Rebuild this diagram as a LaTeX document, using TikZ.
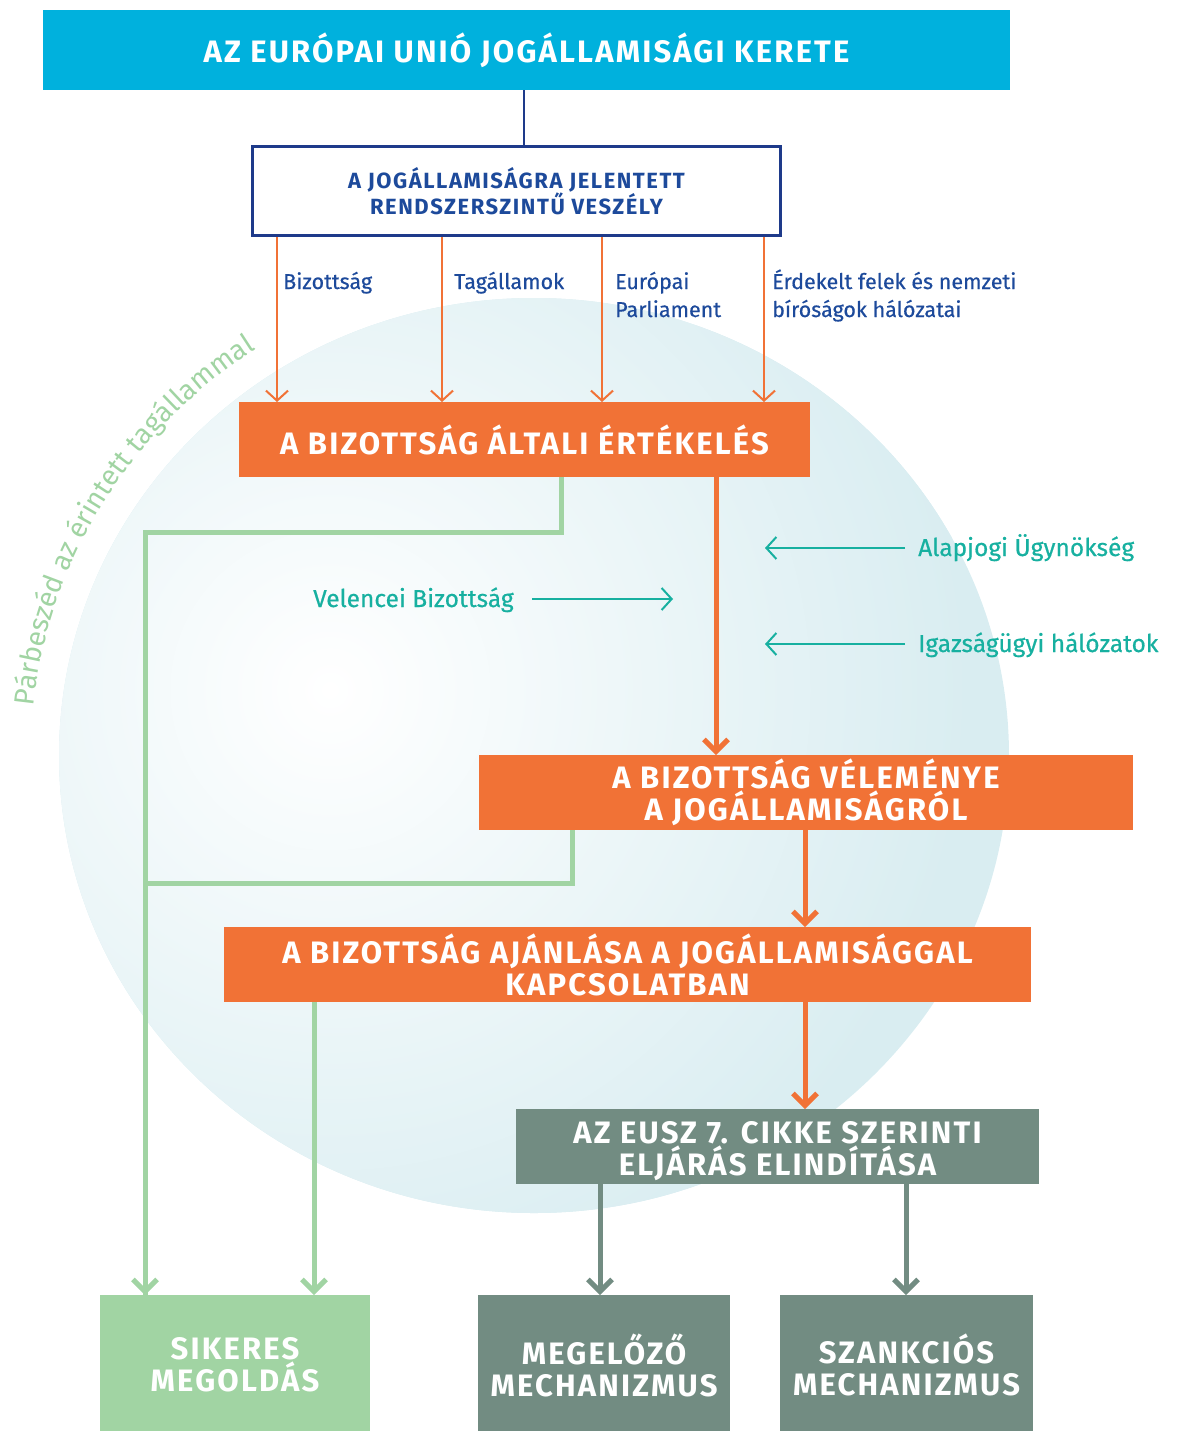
\documentclass[tikz,border=0pt]{standalone}
\usepackage{fontspec}
\setmainfont{Fira Sans}
\newfontfamily\headfont{Fira Sans}[LetterSpace=7]
\newfontfamily\medfont{Fira Sans}[FakeBold=0.5]
\usetikzlibrary{arrows.meta,decorations.text}
\definecolor{ecyan}{HTML}{00B1DD}
\definecolor{enavy}{HTML}{1E3A8A}
\definecolor{lblue}{HTML}{1D4A9B}
\definecolor{eorange}{HTML}{F17236}
\definecolor{eteal}{HTML}{17B0A0}
\definecolor{egreen}{HTML}{A1D4A3}
\definecolor{egray}{HTML}{728C82}
\definecolor{discblue}{HTML}{D9EDF1}
\begin{document}
\begin{tikzpicture}[x=1pt,y=1pt,
  hbox/.style={inner sep=0pt, outer sep=0pt, align=center, text=white, font=\headfont\bfseries\fontsize{31}{32}\selectfont},
  obox/.style={hbox, fill=eorange},
  gbox/.style={hbox, fill=egray},
  lbox/.style={hbox, fill=egreen},
  lab/.style={inner sep=0pt, anchor=base west, text=lblue, font=\medfont\fontsize{21.5}{28}\selectfont, align=left},
  tlab/.style={inner sep=0pt, anchor=base west, text=eteal, font=\medfont\fontsize{24.5}{28}\selectfont},
  oarrow/.style={draw=eorange, line width=2pt, -{Straight Barb[length=10pt,width=22pt]}},
  tarrow/.style={draw=eteal, line width=2pt, -{Straight Barb[length=10pt,width=22pt]}},
  bigarrow/.style={line width=5pt, -{Straight Barb[length=12pt,width=24pt]}},
  gline/.style={draw=egreen, line width=5pt, line join=miter},
]
\useasboundingbox (0,0) rectangle (1182,-1432);
% disc
\fill[discblue] (534,-755.5) ellipse [x radius=475, y radius=457.5];
\begin{scope}
  \clip (534,-755.5) ellipse [x radius=475, y radius=457.5];
  \shade[inner color=white, outer color=discblue] (330,-690) circle (640);
\end{scope}
% curved text
\path[decorate, decoration={text along path, text align=center,
  text format delimiters={|}{|},
  text={|\color{egreen}\fontsize{28}{28}\selectfont|Párbeszéd az érintett tagállammal}}]
  (534,-755) ++(178:503 and 487) arc[start angle=178, end angle=120, x radius=503, y radius=487];

% boxes
\node[hbox, fill=ecyan, minimum width=967pt, minimum height=80pt] (title) at (526.5,-50) {AZ EURÓPAI UNIÓ JOGÁLLAMISÁGI KERETE};
\node[draw=enavy, line width=3pt, fill=white, inner sep=0pt, minimum width=528pt, minimum height=89pt,
  text=lblue, font=\headfont\bfseries\fontsize{22}{24}\selectfont, align=center] (threat) at (516.5,-191)
  {A JOGÁLLAMISÁGRA JELENTETT\\RENDSZERSZINTŰ VESZÉLY};
\node[obox, minimum width=571pt, minimum height=75pt] (assess) at (524.5,-439.5) {A BIZOTTSÁG ÁLTALI ÉRTÉKELÉS};
\node[obox, minimum width=654pt, minimum height=75pt] (opinion) at (806,-792.5) {A BIZOTTSÁG VÉLEMÉNYE\\A JOGÁLLAMISÁGRÓL};
\node[obox, minimum width=807pt, minimum height=75pt] (recom) at (627.5,-964.5) {A BIZOTTSÁG AJÁNLÁSA A JOGÁLLAMISÁGGAL\\KAPCSOLATBAN};
\node[gbox, minimum width=523pt, minimum height=75pt] (art7) at (777.5,-1146.5) {};
\node[hbox] (art7t) at (777.5,-1151) {AZ EUSZ 7. CIKKE SZERINTI\\ELJÁRÁS ELINDÍTÁSA};
\node[lbox, minimum width=270pt, minimum height=136pt] (siker) at (235,-1363) {};
\node[gbox, minimum width=252pt, minimum height=136pt] (megel) at (604,-1363) {};
\node[gbox, minimum width=253pt, minimum height=136pt] (szank) at (906.5,-1363) {};
\node[hbox] (sikert) at (235,-1365) {SIKERES\\MEGOLDÁS};
\node[hbox] (megelt) at (604,-1365) {MEGELŐZŐ\\MECHANIZMUS};
\node[hbox] (szankt) at (906.5,-1365) {SZANKCIÓS\\MECHANIZMUS};

% column coordinates
\coordinate (c524) at (524,0);
\coordinate (c277) at (277,0);
\coordinate (c442) at (442,0);
\coordinate (c602) at (602,0);
\coordinate (c764) at (764,0);
\coordinate (c716) at (716,0);
\coordinate (c805) at (805,0);
\coordinate (c600) at (600,0);
\coordinate (c906) at (906,0);
\coordinate (c314) at (314,0);
\coordinate (gA) at (561,-532);
\coordinate (gAL) at (145,-532);
\coordinate (gB) at (572,-883);
\coordinate (gBL) at (145,-883);

% title connector
\draw[enavy, line width=2pt] (title.south -| c524) -- (threat.north -| c524);

% four orange inputs
\foreach \c in {c277,c442,c602,c764}
  \draw[oarrow] (threat.south -| \c) -- (assess.north -| \c);
\node[lab] (l1) at (283,-289) {Bizottság};
\node[lab] (l2) at (454,-289) {Tagállamok};
\node[lab] (l3) at (615,-317) {Európai\\Parliament};
\node[lab] (l4) at (772,-317) {Érdekelt felek és nemzeti\\bíróságok hálózatai};

% main flow
\draw[bigarrow, draw=eorange] (assess.south -| c716) -- (opinion.north -| c716);
\draw[bigarrow, draw=eorange] (opinion.south -| c805) -- (recom.north -| c805);
\draw[bigarrow, draw=eorange] (recom.south -| c805) -- (art7.north -| c805);
\draw[bigarrow, draw=egray] (art7.south -| c600) -- (megel.north -| c600);
\draw[bigarrow, draw=egray] (art7.south -| c906) -- (szank.north -| c906);

% teal inputs
\node[tlab] (fra) at (918,-556) {Alapjogi Ügynökség};
\node[tlab] (jud) at (918,-652) {Igazságügyi hálózatok};
\node[tlab] (ven) at (313,-607) {Velencei Bizottság};
\coordinate (fraS) at (905,-548);
\coordinate (fraE) at (765,-548);
\coordinate (judS) at (905,-644);
\coordinate (judE) at (765,-644);
\coordinate (venS) at (532,-599);
\coordinate (venE) at (673,-599);
\draw[tarrow] (fraS) -- (fraE);
\draw[tarrow] (judS) -- (judE);
\draw[tarrow] (venS) -- (venE);

% green paths
\draw[gline] (assess.south -| gA) -- (gA) -- (gAL) -- (gAL |- siker.north);
\draw[gline, -{Straight Barb[length=12pt,width=24pt]}] (gAL) -- (gAL |- siker.north);
\draw[gline] (opinion.south -| gB) -- (gB) -- (gBL);
\draw[gline, -{Straight Barb[length=12pt,width=24pt]}] (recom.south -| c314) -- (siker.north -| c314);
\end{tikzpicture}
\end{document}
